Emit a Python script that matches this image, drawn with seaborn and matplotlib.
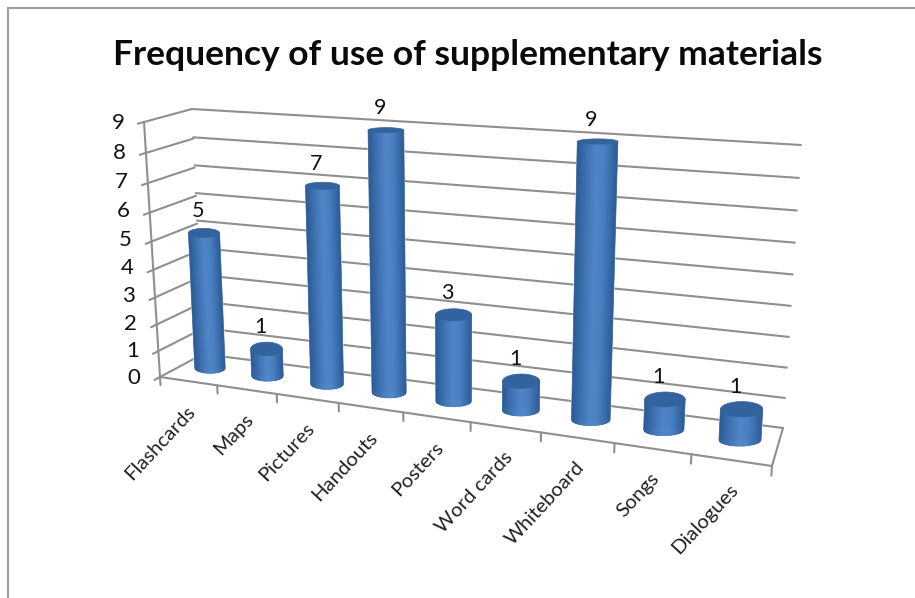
import numpy as np
import matplotlib
matplotlib.use("Agg")
import matplotlib.pyplot as plt
from matplotlib.colors import LinearSegmentedColormap
from matplotlib.lines import Line2D
from matplotlib.transforms import Affine2D, Transform
import seaborn as sns

categories = ["Flashcards", "Maps", "Pictures", "Handouts", "Posters",
              "Word cards", "Whiteboard", "Songs", "Dialogues"]
values = [5, 1, 7, 9, 3, 1, 9, 1, 1]
value_ticks = list(range(10))
title = "Frequency of use of supplementary materials"

WIDTH, HEIGHT = 915, 598
GRID = "#8f8f8f"
FONT = "Lato"


class PlaneProjection(Transform):
    """Projective map from a chart plane onto image pixels."""
    input_dims = output_dims = 2
    is_affine = False
    has_inverse = False

    def __init__(self, src, dst):
        super().__init__()
        rows, rhs = [], []
        for (x, y), (px, py) in zip(src, dst):
            rows.append([x, y, 1, 0, 0, 0, -x * px, -y * px])
            rows.append([0, 0, 0, x, y, 1, -x * py, -y * py])
            rhs += [px, py]
        h = np.linalg.solve(np.array(rows, float), np.array(rhs, float))
        self.matrix = np.append(h, 1).reshape(3, 3)

    def transform_non_affine(self, values):
        pts = np.column_stack([values, np.ones(len(values))]) @ self.matrix.T
        return pts[:, :2] / pts[:, 2:]


class UprightBars(Transform):
    """Places each bar on a plane while keeping its cross-section level in the image."""
    input_dims = output_dims = 2
    is_affine = False
    has_inverse = False

    def __init__(self, plane):
        super().__init__()
        self.plane = plane

    def transform_non_affine(self, values):
        values = np.asarray(values, float)
        centre = np.round(values[:, 0])
        offset = values[:, 0] - centre
        axis = self.plane.transform(np.column_stack([centre, values[:, 1]]))
        right = self.plane.transform(np.column_stack([centre + 0.5, values[:, 1]]))
        left = self.plane.transform(np.column_stack([centre - 0.5, values[:, 1]]))
        out = axis.copy()
        out[:, 0] += offset * (right[:, 0] - left[:, 0])
        return out


sns.set_theme(style="white")
plt.rcParams["font.family"] = [FONT, "DejaVu Sans"]

fig = plt.figure(figsize=(WIDTH / 100, HEIGHT / 100), dpi=100, facecolor="white")
ax = fig.add_axes([0, 0, 1, 1])

to_pixels = Affine2D().scale(1 / WIDTH, -1 / HEIGHT).translate(0, 1) + fig.transFigure

unit_square = [(0, 0), (9, 0), (9, 9), (0, 9)]
back_wall = PlaneProjection(unit_square, [(203, 354), (783, 428), (801, 145), (192, 109)]) + to_pixels
front_edge = PlaneProjection(unit_square, [(160, 377), (772, 466), (792, 159), (144, 122)]) + to_pixels
left_wall = PlaneProjection([(0, 0), (1, 0), (1, 9), (0, 9)],
                            [(160, 377), (203, 354), (192, 109), (144, 122)]) + to_pixels
bar_plane = PlaneProjection([(0, 0), (8, 0), (8, 9), (0, 9)],
                            [(210, 368), (740, 440), (755, 150), (199, 120)])
bar_space = UprightBars(bar_plane) + to_pixels

# Walls and floor
line_style = dict(color=GRID, lw=1.5, solid_capstyle="round", clip_on=False, zorder=1)
for v in value_ticks:
    ax.plot([-0.12, 1], [v, v], transform=left_wall, **line_style)
    ax.plot([0, 9], [v, v], transform=back_wall, **line_style)
ax.plot([0, 0], [0, 9], transform=front_edge, **line_style)
ax.plot([0, 9], [0, 0], transform=front_edge, **line_style)
for u in range(10):
    ax.plot([u, u], [0, -0.3], transform=front_edge, **line_style)
floor_corner = front_edge.transform((9, 0))
wall_corner = back_wall.transform((9, 0))
fig.add_artist(Line2D(*fig.transFigure.inverted().transform([floor_corner, wall_corner]).T,
                      color=GRID, lw=1.5))

# Bars
frame = sns.barplot(x=categories, y=values, order=categories, width=0.54,
                    color="#3F74B5", saturation=1, ax=ax, zorder=2)
bars = list(frame.patches)
shade = LinearSegmentedColormap.from_list(
    "cylinder", ["#2A5993", "#376AA6", "#4679BA", "#5086C8", "#4C82C4", "#3C70B0", "#2C5C98"])


def cap_depth(v):
    """Vertical half-axis of a cylinder end, in value units."""
    return (8 - 0.62 * v) / 30


STRIPS = 30
for bar, value in zip(bars, values):
    bar.set_transform(bar_space)
    bar.set_clip_on(False)
    x0, half = bar.get_x(), bar.get_width() / 2
    cx = x0 + half
    top = bar.get_height()
    edges = np.linspace(-1, 1, STRIPS + 1)
    for k in range(STRIPS):
        t = np.linspace(edges[k], edges[k + 1], 4)
        arc = -(6 / 30) * np.sqrt(np.clip(1 - t ** 2, 0, 1))
        xs = np.r_[cx + half * t, cx + half * t[::-1]]
        ys = np.r_[arc, np.full(4, top)]
        c = shade((k + 0.5) / STRIPS)
        ax.fill(xs, ys, transform=bar_space, color=c, lw=0.5, clip_on=False, zorder=3)
    angle = np.linspace(0, 2 * np.pi, 80)
    ax.fill(cx + half * np.cos(angle), top + cap_depth(top) * np.sin(angle),
            transform=bar_space, color="#32639E", lw=0.5, clip_on=False, zorder=4)
    ax.annotate(str(value), (cx, top), xycoords=bar_space, xytext=(-6, 22),
                textcoords="offset pixels", ha="center", va="center",
                fontsize=15.5, color="#111111", zorder=5, annotation_clip=False)

# Axis labels
for v in value_ticks:
    ax.annotate(str(v), (0, v), xycoords=front_edge, xytext=(-26, -1),
                textcoords="offset pixels", ha="center", va="center",
                fontsize=16, color="#111111", annotation_clip=False)
for i, name in enumerate(categories):
    ax.annotate(name, (i + 0.5, 0), xycoords=front_edge, xytext=(4, -27),
                textcoords="offset pixels", ha="right", va="center",
                rotation=47, rotation_mode="anchor",
                fontsize=14.6, color="#222222", annotation_clip=False)

fig.text(467.5 / WIDTH, 1 - 55 / HEIGHT, title, ha="center", va="center",
         fontsize=25.5, fontweight="bold", color="#0a0a0a")

ax.set_xlim(0, 1)
ax.set_ylim(0, 1)
ax.axis("off")

# Outer border of the chart area, open to the right and bottom
border = dict(color="#a3a3a3", lw=1.6)
fig.add_artist(Line2D([7.5 / WIDTH, 7.5 / WIDTH], [0, 1 - 7.5 / HEIGHT], **border))
fig.add_artist(Line2D([7.5 / WIDTH, 1], [1 - 7.5 / HEIGHT, 1 - 7.5 / HEIGHT], **border))

fig.savefig("out.png", dpi=100, facecolor="white")
